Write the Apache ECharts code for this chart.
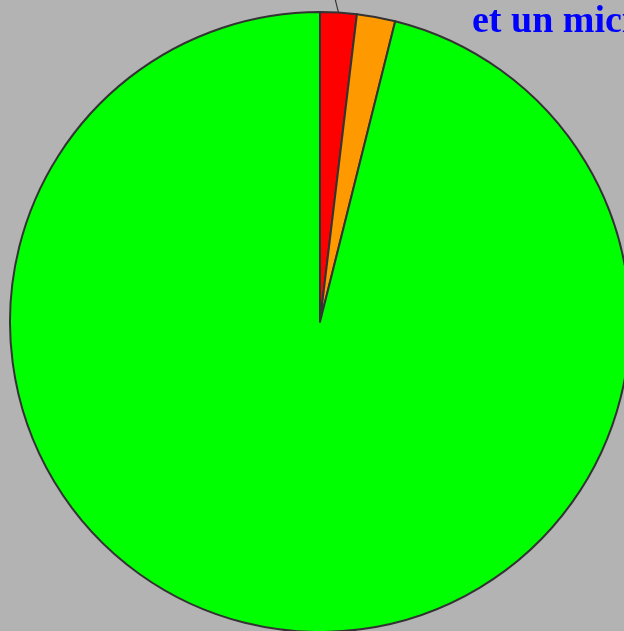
<!DOCTYPE html>
<html>
<head>
<meta charset="utf-8">
<script src="https://cdn.jsdelivr.net/npm/echarts@6/dist/echarts.min.js"></script>
<style>
html,body{margin:0;padding:0;background:#b3b3b3;}
#chart{width:624px;height:631px;}
</style>
</head>
<body>
<div id="chart"></div>
<script>
const categories = ['Rouge', 'Orange', 'Vert'];
const values = [1.9, 2.0, 96.1];
const colors = ['#ff0000', '#ff9900', '#00ff00'];
const titleText = 'et un micro';

const chart = echarts.init(document.getElementById('chart'));
chart.setOption({
  backgroundColor: '#b3b3b3',
  animation: false,
  title: {
    text: titleText,
    left: 472,
    top: 3,
    padding: 0,
    textStyle: { color: '#0000ff', fontFamily: 'Liberation Serif', fontWeight: 'bold', fontSize: 38 }
  },
  series: [{
    type: 'pie',
    center: [320, 322],
    radius: 310,
    startAngle: 90,
    clockwise: true,
    avoidLabelOverlap: false,
    itemStyle: { borderColor: '#333333', borderWidth: 2 },
    label: { show: false },
    labelLine: { show: false },
    data: categories.map((c, i) => ({
      name: c,
      value: values[i],
      itemStyle: { color: colors[i] },
      label: i === 0 ? { show: true, position: 'outside', color: '#0000ff', fontSize: 20 } : { show: false },
      labelLine: i === 0 ? { show: true, length: 60, length2: 0, lineStyle: { color: '#333333', width: 1.2 } } : { show: false }
    })),
    labelLayout: function (p) {
      if (p.dataIndex === 0 && p.labelLinePoints) {
        const s = p.labelLinePoints[0];
        return {
          x: s[0] - 40, y: s[1] - 120,
          labelLinePoints: [[s[0], s[1]], [s[0] - 10, s[1] - 40]]
        };
      }
      return {};
    }
  }]
});
</script>
</body>
</html>
